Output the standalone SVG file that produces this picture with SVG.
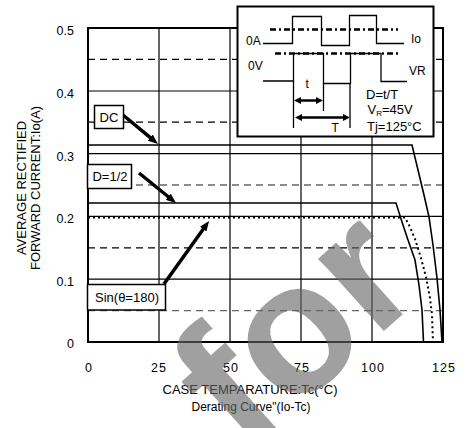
<svg xmlns="http://www.w3.org/2000/svg" width="470" height="428" viewBox="0 0 470 428">
<style>
text{font-family:"Liberation Sans",Arial,sans-serif;fill:#000}
.tk{font-size:12.5px}
.xt{font-size:12.5px;letter-spacing:1px;text-anchor:middle}
.lb{font-size:13px}
.in{font-size:12px}
.grid{stroke:#000;stroke-width:1.2;fill:none}
.dash{stroke:#000;stroke-width:1.2;stroke-dasharray:7 5;fill:none}
.dashg{stroke:#666;stroke-width:1.4;stroke-dasharray:7 5;fill:none}
.curve{stroke:#000;stroke-width:1.6;fill:none}
.dot{stroke:#000;stroke-width:2;stroke-dasharray:2 3;fill:none}
.box{fill:#fff;stroke:#000;stroke-width:1.5}
.arr{stroke:#000;stroke-width:3.5;fill:none;marker-end:url(#ah)}
.arr2{stroke:#000;stroke-width:2.5;fill:none;marker-end:url(#ah2);marker-start:url(#ah2)}
.dd{stroke:#000;stroke-width:2.6;stroke-dasharray:6 3 2 3;fill:none}
.wave{stroke:#000;stroke-width:1.3;fill:none}
.wm{font-size:185px;font-weight:bold;fill:#666;fill-opacity:0.62}
</style>
<defs>
<marker id="ah" viewBox="0 0 10 8" markerWidth="10" markerHeight="8" refX="2" refY="4" orient="auto" markerUnits="userSpaceOnUse"><path d="M0,0 L10,4 L0,8 z" fill="#000"/></marker>
<marker id="ah2" viewBox="0 0 7 7" markerWidth="7" markerHeight="7" refX="2" refY="3.5" orient="auto-start-reverse" markerUnits="userSpaceOnUse"><path d="M0,0 L7,3.5 L0,7 z" fill="#000"/></marker>
</defs>
<rect width="470" height="428" fill="#fff"/>

<g id="plot-grid">
<path class="dash" d="M88,59.4H443M88,122.2H443M88,247.8H443"/>
<path class="dashg" d="M88,185H443M88,310.6H443"/>
<path class="grid" d="M88,91H443M88,153.6H443M88,216.4H443M88,279.2H443M159,28V342M230,28V342M301,28V342M372,28V342"/>
<rect x="88" y="28" width="355" height="314" fill="none" stroke="#000" stroke-width="2"/>
</g>

<g id="axis-labels">
<g class="tk" text-anchor="end">
<text x="74" y="35">0.5</text>
<text x="74" y="98">0.4</text>
<text x="74" y="161">0.3</text>
<text x="74" y="223">0.2</text>
<text x="74" y="286">0.1</text>
<text x="74" y="348">0</text>
</g>
<g class="xt">
<text x="89" y="372">0</text>
<text x="159" y="372">25</text>
<text x="231" y="372">50</text>
<text x="302" y="372">75</text>
<text x="373" y="372">100</text>
<text x="444" y="372">125</text>
</g>
<text class="lb" x="250" y="394" text-anchor="middle">CASE TEMPARATURE:Tc(°C)</text>
<text x="251" y="411" text-anchor="middle" font-size="12">Derating Curve"(Io-Tc)</text>
<text class="lb" transform="translate(26,188) rotate(-90)" text-anchor="middle">AVERAGE RECTIFIED</text>
<text class="lb" transform="translate(40,188) rotate(-90)" text-anchor="middle">FORWARD CURRENT:Io(A)</text>
</g>

<g id="curves">
<polyline id="curve-dc" class="curve" points="88,145 412,145 418,170 424,195 429,217 433,245 437,278 440,310 442,342"/>
<polyline id="curve-d12" class="curve" points="88,203 396,203 402,222 408,240 415,260 419,285 422,310 423.5,342"/>
<polyline id="curve-sin" class="dot" points="88,217.5 405,217.5 410,227 415,239 421,258 426,277 430,298 432,315 433,342"/>
</g>

<g id="connectors">
<line class="arr" x1="123" y1="115" x2="151.8" y2="138.9"/>
<line class="arr" x1="139" y1="173" x2="169.8" y2="198"/>
<line class="arr" x1="164" y1="284" x2="204.4" y2="227.5"/>
</g>

<g id="label-dc">
<rect class="box" x="94.5" y="105.5" width="29" height="23"/>
<text class="lb" x="109" y="121.5" text-anchor="middle">DC</text>
</g>
<g id="label-d12">
<rect class="box" x="87.5" y="164.5" width="44" height="24"/>
<text class="lb" x="110" y="181" text-anchor="middle">D=1/2</text>
</g>
<g id="label-sin">
<rect class="box" x="87.5" y="284.5" width="78" height="25.5"/>
<text class="lb" x="127" y="302" text-anchor="middle">Sin(θ=180)</text>
</g>

<g id="inset">
<rect x="237.5" y="6.5" width="196" height="130" fill="#fff" stroke="#000" stroke-width="2"/>
<path class="dd" d="M270,29.5H398M275,53.5H398"/>
<path class="wave" d="M263,43.5H292.5V16.5H321.5V45.5H349.5V15.5H376.5V43.5H404"/>
<path class="wave" d="M263,81H293.5V53.5H323.5V83.5H350.5V53.5H381V81.5H407"/>
<path class="wave" d="M293.5,81V128M323.5,83V111M350,83V128"/>
<line class="arr2" x1="299" y1="100.5" x2="318" y2="100.5"/>
<line class="arr2" x1="300" y1="117.5" x2="345" y2="117.5"/>
<text class="in" x="246" y="45">0A</text>
<text class="in" x="248" y="70">0V</text>
<text class="in" x="411" y="43">Io</text>
<text class="in" x="409" y="75">VR</text>
<text class="in" x="305.5" y="87.5">t</text>
<text class="in" x="331.5" y="132">T</text>
<text class="lb" x="366" y="99">D=t/T</text>
<text class="lb" x="367.5" y="113.5">V<tspan font-size="8" dy="2">R</tspan><tspan dy="-2">=45V</tspan></text>
<text class="lb" x="367" y="130.5">Tj=125°C</text>
</g>

<text class="wm" transform="translate(244.5,456.6) rotate(-42)">for</text>
</svg>
